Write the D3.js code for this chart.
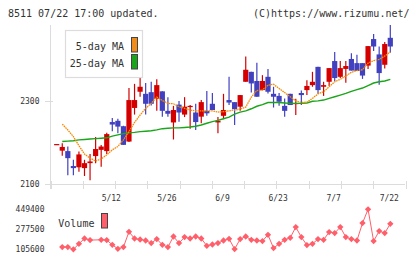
<!DOCTYPE html>
<html>
<head>
<meta charset="utf-8">
<script src="https://cdn.jsdelivr.net/npm/d3@7"></script>
<style>
  body { margin: 0; background: #fff; }
  svg { display: block; font-family: "DejaVu Sans Mono", monospace; }
</style>
</head>
<body>
<svg id="chart" width="420" height="259"></svg>
<script>
// trading days shown on the chart
const dates = ["4/23","4/24","4/25","4/28","4/30","5/1","5/2","5/7","5/8","5/9",
  "5/12","5/13","5/14","5/15","5/16","5/19","5/20","5/21","5/22","5/23",
  "5/26","5/27","5/28","5/29","5/30","6/2","6/3","6/4","6/5","6/6",
  "6/9","6/10","6/11","6/12","6/13","6/16","6/17","6/18","6/19","6/20",
  "6/23","6/24","6/25","6/26","6/27","6/30","7/1","7/2","7/3","7/4",
  "7/7","7/8","7/9","7/10","7/11","7/14","7/15","7/16","7/17","7/18","7/22"];

const open  = [2196,2181,2180,2144,2141,2139,2151,2168,2183,2180,
  2250,2253,2240,2203,2284,2323,2318,2322,2306,2324,
  2277,2249,2292,2268,2286,2273,2263,2277,2294,2249,
  2265,2303,2298,2287,2347,2371,2349,2327,2359,2318,
  2313,2289,2318,2294,2320,2327,2339,2383,2335,2347,
  2397,2359,2378,2402,2392,2392,2386,2450,2413,2388,2453];
const high  = [2197,2199,2191,2159,2179,2159,2173,2214,2195,2224,
  2260,2258,2241,2332,2342,2358,2344,2347,2353,2324,
  2310,2289,2301,2310,2291,2294,2303,2325,2320,2262,
  2318,2359,2298,2315,2408,2371,2393,2363,2378,2335,
  2320,2307,2318,2306,2326,2351,2371,2383,2347,2380,
  2419,2397,2397,2416,2412,2392,2433,2462,2432,2443,2484];
const low   = [2196,2169,2122,2122,2130,2120,2110,2151,2142,2173,
  2228,2223,2195,2202,2268,2311,2268,2290,2277,2263,
  2263,2208,2251,2262,2234,2231,2247,2265,2279,2223,
  2257,2291,2243,2277,2347,2321,2311,2327,2319,2285,
  2289,2263,2291,2267,2291,2315,2335,2318,2313,2337,
  2349,2356,2345,2374,2373,2354,2378,2421,2340,2379,2417];
const close = [2197,2190,2163,2139,2172,2151,2155,2185,2191,2221,
  2244,2239,2195,2303,2303,2335,2294,2294,2339,2277,
  2270,2279,2273,2287,2289,2250,2298,2271,2279,2253,
  2279,2297,2281,2315,2376,2343,2311,2349,2323,2311,
  2299,2277,2291,2296,2315,2337,2347,2327,2339,2380,
  2356,2380,2385,2374,2373,2362,2433,2432,2368,2438,2432];

const ma5 = [null,2245,2231,2215,2193,2173,2163,2156,2161,2171,
  2183,2191,2207,2227,2249,2267,2283,2295,2310,2302,
  2295,2294,2287,2283,2279,2277,2277,2277,2277,2274,
  2275,2277,2279,2281,2286,2310,2326,2327,2339,2341,
  2331,2321,2311,2301,2297,2298,2307,2318,2323,2335,
  2347,2353,2361,2370,2374,2376,2392,2398,2401,2409,2419];
const ma25 = [null,2203,2204,2205,2207,2208,2209,2210,2211,2212,
  2216,2219,2222,2224,2225,2227,2228,2229,2231,2234,
  2235,2236,2236,2237,2238,2240,2243,2247,2251,2254,
  2258,2262,2269,2274,2277,2282,2288,2292,2297,2297,
  2297,2296,2295,2295,2295,2296,2300,2301,2303,2307,
  2311,2315,2319,2324,2328,2332,2338,2344,2347,2349,2353];

const volume = [null,124500,124500,105600,152900,198400,184700,null,187300,184700,
  144300,109900,124500,256000,198400,189800,181200,158900,193300,144300,
  124500,215600,158900,210500,198400,215600,198400,135700,146900,158900,
  181200,195900,107300,193300,215600,187300,181200,176100,230200,115900,
  152900,187300,204400,296400,210500,141700,152900,193300,187300,253400,
  244800,296400,210500,193300,181200,330800,449400,176100,262000,244800,324800];

const priceTicks = [2100, 2300];
const volumeTicks = [105600, 277500, 449400];
const dateLabels = ["5/12","5/26","6/9","6/23","7/7","7/22"];

const svg = d3.select("#chart");
const axisColor = "#dcdcdc", textColor = "#333";
const upColor = "#d40000", downColor = "#4141c0";

const x = d3.scalePoint().domain(dates).range([56.7, 390.3]);
const y = d3.scaleLinear().domain([2100, 2300]).range([184.3, 101.3]);
const yv = d3.scaleLinear().domain([105600, 449400]).range([249.3, 209.3]);

// header
svg.append("text").attr("x", 8).attr("y", 16.5).attr("font-size", 10).attr("fill", textColor)
  .text("8511 07/22 17:00 updated.");
svg.append("text").attr("x", 409.5).attr("y", 16.5).attr("font-size", 10).attr("fill", textColor)
  .attr("text-anchor", "end").text("(C)https://www.rizumu.net/");

// axes
svg.append("line").attr("x1", 50.5).attr("x2", 50.5).attr("y1", 25).attr("y2", 189)
  .attr("stroke", axisColor);
svg.append("line").attr("x1", 45).attr("x2", 405).attr("y1", 184.5).attr("y2", 184.5)
  .attr("stroke", axisColor);
const tickX = d3.scaleLinear().domain([0, 11]).range([50.5, 405.5]);
svg.selectAll(".xtick").data(d3.range(12)).join("line")
  .attr("x1", d => Math.round(tickX(d)) + 0.5).attr("x2", d => Math.round(tickX(d)) + 0.5)
  .attr("y1", 181).attr("y2", 189).attr("stroke", axisColor);
svg.selectAll(".ytick").data(priceTicks).join("line")
  .attr("x1", 45).attr("x2", 53).attr("y1", d => Math.round(y(d)) + 0.5).attr("y2", d => Math.round(y(d)) + 0.5)
  .attr("stroke", axisColor);
svg.selectAll(".ylab").data(priceTicks).join("text")
  .attr("x", 39.5).attr("y", d => y(d) + 3).attr("text-anchor", "end")
  .attr("font-size", 8).attr("fill", textColor).text(d => d);
svg.selectAll(".xlab").data(dateLabels).join("text")
  .attr("x", d => x(d) - 1).attr("y", 200.5).attr("text-anchor", "middle")
  .attr("font-size", 8).attr("fill", textColor).text(d => d);

// candles
const idx = d3.range(dates.length);
const candles = svg.append("g");
candles.selectAll("line").data(idx).join("line")
  .attr("x1", i => x(dates[i])).attr("x2", i => x(dates[i]))
  .attr("y1", i => y(high[i])).attr("y2", i => y(low[i]))
  .attr("stroke", i => close[i] >= open[i] ? upColor : downColor).attr("stroke-width", 1.2);
candles.selectAll("rect").data(idx).join("rect")
  .attr("x", i => x(dates[i]) - 2.6).attr("width", 5.2)
  .attr("y", i => y(Math.max(open[i], close[i])))
  .attr("height", i => Math.max(1.2, Math.abs(y(open[i]) - y(close[i]))))
  .attr("fill", i => close[i] >= open[i] ? upColor : downColor);

// moving averages
const maLine = arr => d3.line()
  .defined(i => arr[i] != null)
  .x(i => x(dates[i])).y(i => y(arr[i]))(idx);
svg.append("path").attr("d", maLine(ma25)).attr("fill", "none")
  .attr("stroke", "#1aa51a").attr("stroke-width", 1.4);
svg.append("path").attr("d", maLine(ma5)).attr("fill", "none")
  .attr("stroke", "#f58a00").attr("stroke-width", 1.3).attr("stroke-dasharray", "1.6,0.7");

// legend
const lg = svg.append("g");
lg.append("rect").attr("x", 65.5).attr("y", 30.5).attr("width", 77).attr("height", 47)
  .attr("fill", "#fff").attr("stroke", axisColor).attr("stroke-width", 1.2);
const legendItems = [["5-day MA", "#f08c1c"], ["25-day MA", "#1aa51a"]];
legendItems.forEach(([label, col], k) => {
  lg.append("text").attr("x", 124).attr("y", 50 + k * 16.5).attr("text-anchor", "end")
    .attr("font-size", 10).attr("fill", textColor).text(label);
  lg.append("rect").attr("x", 131.5).attr("y", 37.5 + k * 17).attr("width", 6).attr("height", 14.5)
    .attr("fill", col).attr("stroke", "#444").attr("stroke-width", 1);
});

// volume panel
const volColor = "#ff5f6a";
svg.selectAll(".vlab").data(volumeTicks).join("text")
  .attr("x", 44.5).attr("y", d => yv(d) + 3).attr("text-anchor", "end")
  .attr("font-size", 8).attr("fill", textColor).text(d => d);
svg.append("text").attr("x", 58.3).attr("y", 226.5).attr("font-size", 10).attr("fill", textColor).text("Volume");
svg.append("rect").attr("x", 101.5).attr("y", 213.5).attr("width", 6).attr("height", 14.5)
  .attr("fill", volColor).attr("stroke", "#444");
const volIdx = idx.filter(i => volume[i] != null);
svg.append("path")
  .attr("d", d3.line().x(i => x(dates[i])).y(i => yv(volume[i]))(volIdx))
  .attr("fill", "none").attr("stroke", volColor).attr("stroke-width", 1);
svg.selectAll(".vpt").data(volIdx).join("path")
  .attr("transform", i => `translate(${x(dates[i])},${yv(volume[i])}) rotate(45)`)
  .attr("d", d3.symbol(d3.symbolSquare, 20))
  .attr("fill", volColor);
</script>
</body>
</html>
